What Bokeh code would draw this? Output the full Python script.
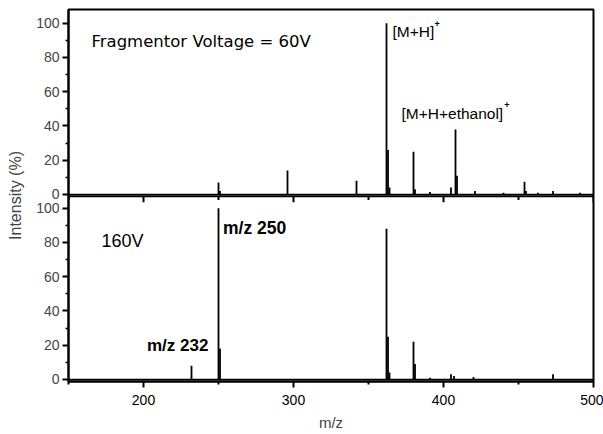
from bokeh.plotting import figure
from bokeh.models import (Range1d, LinearAxis, FixedTicker, Span, Label, ColumnDataSource)
from bokeh.embed import file_html
from bokeh.resources import INLINE

# ---- data ----
mz_60 = [250, 251, 296, 342, 362, 363, 364, 380, 381, 391, 405, 408, 409, 421, 440, 454, 455, 463, 473, 491]
int_60 = [7, 2, 14, 8, 100, 26, 4, 25, 3, 1.5, 4, 38, 11, 2, 1, 7.5, 2, 1, 2, 1]

mz_160 = [232, 250, 251, 362, 363, 364, 380, 381, 391, 405, 407, 420, 473]
int_160 = [8, 100, 18, 88, 25, 4, 22, 9, 1, 3, 2, 1.5, 3]

y_ticks = [0, 20, 40, 60, 80, 100]
y_minor = [10, 30, 50, 70, 90]
x_major = [200, 300, 400, 500]
x_minor = [150, 250, 350, 450]

OFFSET = 108  # vertical distance (in intensity units) between the two panels' zero lines
DIVIDER = -1  # top panel's lower edge, in top-panel units

FONT = "Liberation Sans"

p = figure(width=603, height=434, output_backend="svg", toolbar_location=None,
           x_range=Range1d(150, 500), y_range=Range1d(-1.2, 216.0),
           min_border_left=68, min_border_right=10, min_border_top=9, min_border_bottom=53,
           x_axis_type=None, y_axis_type=None)
p.extra_y_ranges = {"top": Range1d(-1.2 - OFFSET, 216.0 - OFFSET)}
p.xgrid.visible = False
p.ygrid.visible = False
p.outline_line_color = "black"
p.outline_line_width = 2
p.outline_line_alpha = 1.0
p.background_fill_color = "white"
p.border_fill_color = "white"

# bottom x axis
xa = LinearAxis(ticker=FixedTicker(ticks=x_major, minor_ticks=x_minor), axis_label="m/z")
xa.axis_line_width = 2
xa.major_tick_line_width = 2
xa.minor_tick_line_width = 2
xa.major_tick_out = 6
xa.major_tick_in = 0
xa.minor_tick_out = 3
xa.minor_tick_in = 0
xa.major_label_text_font = FONT
xa.major_label_text_font_size = "14px"
xa.major_label_text_color = "black"
xa.major_label_standoff = 7
xa.axis_label_text_font = FONT
xa.axis_label_text_font_size = "15px"
xa.axis_label_text_font_style = "normal"
xa.axis_label_standoff = 6
p.add_layout(xa, "below")

# left y axis covering both panels
ticks = y_ticks + [v + OFFSET for v in y_ticks]
minors = y_minor + [v + OFFSET for v in y_minor]
overrides = {v: str(v) for v in y_ticks}
overrides.update({v + OFFSET: str(v) for v in y_ticks})
ya = LinearAxis(ticker=FixedTicker(ticks=ticks, minor_ticks=minors), axis_label="Intensity (%)")
ya.major_label_overrides = overrides
ya.axis_line_width = 2
ya.major_tick_line_width = 2
ya.minor_tick_line_width = 1.5
ya.major_tick_out = 6
ya.major_tick_in = 0
ya.minor_tick_out = 3
ya.minor_tick_in = 0
ya.major_label_text_font = FONT
ya.major_label_text_font_size = "14px"
ya.major_label_standoff = 3
ya.axis_label_text_font = FONT
ya.axis_label_text_font_size = "16px"
ya.axis_label_text_font_style = "normal"
ya.axis_label_standoff = 9
p.add_layout(ya, "left")

# divider between panels and the top panel's x ticks (pointing down)
p.add_layout(Span(location=DIVIDER, dimension="width", line_color="black", line_width=2,
                  y_range_name="top"))
p.segment(x0=x_major, y0=[DIVIDER] * len(x_major), x1=x_major, y1=[DIVIDER - 3.5] * len(x_major),
          line_color="black", line_width=2, y_range_name="top")
p.segment(x0=x_minor, y0=[DIVIDER] * len(x_minor), x1=x_minor, y1=[DIVIDER - 2.2] * len(x_minor),
          line_color="black", line_width=2, y_range_name="top")

# baselines
p.add_layout(Span(location=0, dimension="width", line_color="black", line_width=1.5, y_range_name="top"))
p.add_layout(Span(location=0, dimension="width", line_color="black", line_width=1.5))

# peaks
src60 = ColumnDataSource(dict(mz=mz_60, i=int_60, z=[0] * len(mz_60)))
src160 = ColumnDataSource(dict(mz=mz_160, i=int_160, z=[0] * len(mz_160)))
p.segment(x0="mz", y0="z", x1="mz", y1="i", source=src60, line_color="black",
          line_width=1.8, y_range_name="top")
p.segment(x0="mz", y0="z", x1="mz", y1="i", source=src160, line_color="black",
          line_width=1.8)

# annotations
def lab(x, y, text, size, style="normal", rng="default", font=FONT):
    l = Label(x=x, y=y, text=text, text_font=font, text_font_size=size,
              text_font_style=style, text_baseline="middle", text_align="left",
              text_color="black", y_range_name=rng)
    p.add_layout(l)

lab(165.3, 89.5, "Fragmentor Voltage = 60V", "16.5px", rng="top", font="DejaVu Sans")
lab(366.0, 95.0, "[M+H]", "15.5px", rng="top")
lab(394.0, 99.5, "+", "9px", style="bold", rng="top")
lab(372.0, 47.5, "[M+H+ethanol]", "15.5px", rng="top")
lab(440.5, 52.5, "+", "9px", style="bold", rng="top")
lab(172.0, 80.6, "160V", "18px")
lab(253.0, 88.7, "m/z 250", "17.5px", style="bold")
lab(202.3, 19.8, "m/z 232", "17px", style="bold")

open("out.html", "w").write(file_html(p, INLINE))
